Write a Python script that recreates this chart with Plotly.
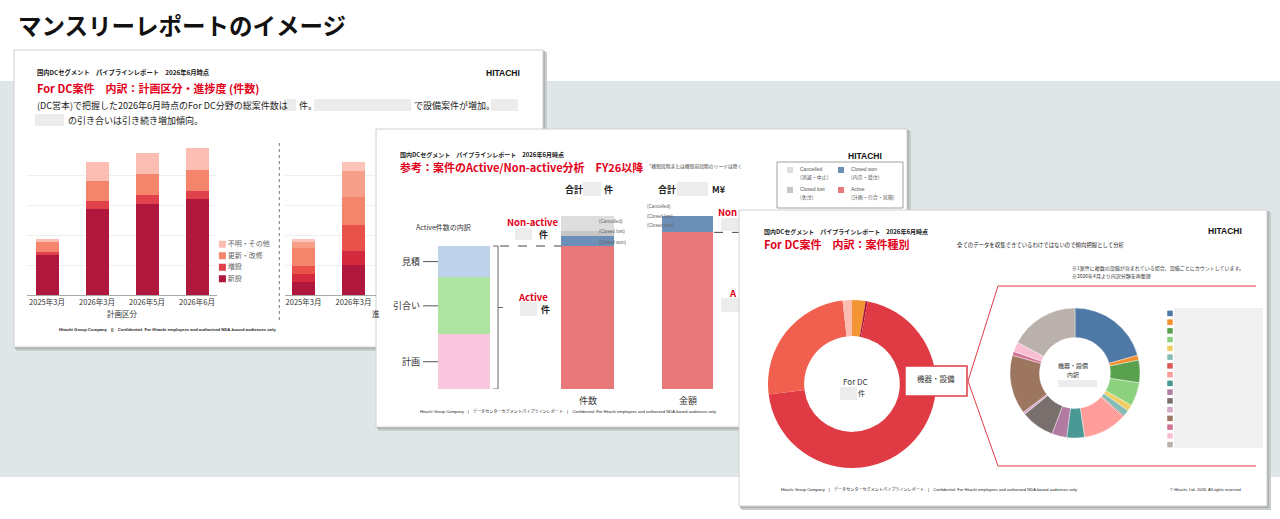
import plotly.graph_objects as go

W, H = 1280, 519
JP = "Noto Sans CJK JP, Noto Sans, sans-serif"
LAT = "Liberation Sans, Arial, sans-serif"
MIX = "Liberation Sans, Noto Sans CJK JP, sans-serif"
RED = "#e2001a"


def fx(x):
    return x / W


def fy(y):
    return 1 - y / H


# ---------------- data ----------------
# Slide 1 (left): 計画区分 (件数)
plan_periods = ["2025年3月", "2026年3月", "2026年5月", "2026年6月"]
plan_names = ["新設", "増設", "更新・改修", "不明・その他"]
plan_new = [67, 144, 152, 160]
plan_add = [5, 12, 15, 14]
plan_renew = [17, 34, 35, 35]
plan_other = [5, 32, 34, 36]
plan_colors = ["#b0173c", "#e0414b", "#f5846c", "#fcbdb3"]

# Slide 1 (right, partly hidden): 進捗度
prog_periods = ["2025年3月", "2026年3月"]
prog_names = ["受注", "内示", "見積", "引合い", "計画", "その他"]
prog_s1 = [22, 50]
prog_s2 = [13, 24]
prog_s3 = [14, 43]
prog_s4 = [30, 47]
prog_s5 = [9, 42]
prog_s6 = [5, 16]
prog_colors = ["#b0173c", "#d42a3e", "#e8524b", "#f5846c", "#f89f8a", "#fcc3b8"]

# Slide 2: Active / Non-active
status_names = ["Active", "Closed won", "Closed lost", "Cancelled"]
status_count = [165, 12, 5, 18]
status_amount = [940, 100, 0, 0]
status_colors = ["#e8787a", "#6c8fb8", "#c6c6c6", "#dddddd"]
active_names = ["計画", "引合い", "見積"]
active_count = [63, 66, 36]
active_colors = ["#f8c6dd", "#aee3a2", "#bed2ec"]

# Slide 3: 案件種別
dc_types = ["サービス", "保守", "機器・設備", "工事", "その他"]
dc_counts = [13, 2, 350, 126, 9]
dc_colors = ["#f39532", "#a8173a", "#e03b45", "#f1604f", "#fbbdb2"]
equip_types = ["区分%d" % i for i in range(1, 17)]
equip_counts = [206, 12, 56, 59, 15, 17, 3, 108, 44, 37, 83, 6, 147, 10, 24, 172]
equip_colors = ["#4e79a7", "#f28e2b", "#59a14f", "#8cd17d", "#f1ce63", "#86bcb6",
                "#e15759", "#ff9d9a", "#499894", "#b07aa1", "#79706e", "#d4a6c8",
                "#9d7660", "#d37295", "#fabfd2", "#bab0ac"]

shapes = []
annotations = []


def rect(x0, y0, x1, y1, fill, line=None, lw=0, layer="below"):
    shapes.append(dict(type="rect", xref="paper", yref="paper",
                       x0=fx(x0), x1=fx(x1), y0=fy(y1), y1=fy(y0),
                       fillcolor=fill, line=dict(color=line or fill, width=lw),
                       layer=layer))


def seg(x0, y0, x1, y1, color, width=1, dash=None, layer="below", yref="paper"):
    if yref == "paper":
        y0, y1 = fy(y0), fy(y1)
    shapes.append(dict(type="line", xref="paper", yref=yref,
                       x0=fx(x0), x1=fx(x1), y0=y0, y1=y1,
                       line=dict(color=color, width=width, dash=dash), layer=layer))


def text(s, x, y, size, color="#222", bold=False, xanchor="left", family=JP, yref="paper"):
    annotations.append(dict(text=("<b>%s</b>" % s) if bold else s,
                            x=fx(x), y=fy(y) if yref == "paper" else y,
                            xref="paper", yref=yref, showarrow=False,
                            xanchor=xanchor, yanchor="middle",
                            font=dict(size=size, color=color, family=family)))


def hatch(x0, y0, x1, y1):
    rect(x0, y0, x1, y1, "#ececec")


def slide(x0, y0, x1, y1):
    rect(x0 + 2, y0 + 2, x1 + 4, y1 + 4, "#c9cccd")
    rect(x0 + 1, y0 + 1, x1 + 2, y1 + 2, "#aeb1b2")
    rect(x0, y0, x1, y1, "#ffffff", "#d0d0d0", 1)


# ---------------- page ----------------
rect(0, 81, 1280, 477, "#dfe6e7")
text("マンスリーレポートのイメージ", 16, 25, 23.5, "#111", bold=True)

# ---------------- slide 1 ----------------
slide(14, 50, 543, 347)
text("国内DCセグメント　パイプラインレポート　2026年6月時点", 35, 73, 6.3, "#222", bold=True)
text("For DC案件　内訳：計画区分・進捗度 (件数)", 35, 88, 11, RED, bold=True)
text("HITACHI", 522, 73, 8.5, "#111", bold=True, xanchor="right", family=LAT)
text("(DC営本)で把握した2026年6月時点のFor DC分野の総案件数は", 35, 105, 9, "#222")
hatch(284, 99, 296, 111)
text("件。", 297, 105, 9, "#222")
hatch(314, 99, 411, 111)
text("で設備案件が増加。", 412, 105, 9, "#222")
hatch(491, 99, 518, 111)
hatch(35, 114, 64, 126)
text("の引き合いは引き続き増加傾向。", 66, 120, 9, "#222")
seg(279.3, 143, 279.3, 320, "#777", 1, "dot")
text("計画区分", 122, 313, 7.5, "#333", xanchor="center")
text("進", 369.5, 313, 7.5, "#333")
text("Hitachi Group Company　||　Confidential: For Hitachi employees and authorized NDA-bound audiences only",
     57, 329, 4.2, "#222", bold=True, family=MIX)

# ---------------- slide 2 ----------------
slide(376, 129, 907, 427)
text("国内DCセグメント　パイプラインレポート　2026年6月時点", 398, 154, 6, "#222", bold=True)
text("参考：案件のActive/Non-active分析　FY26以降", 398, 167, 11, RED, bold=True)
text("*構想段階または構想前段階のリードは除く", 647, 166, 4.8, "#444")
text("HITACHI", 884, 156, 8.5, "#111", bold=True, xanchor="right", family=LAT)
text("合計", 563, 189, 9, "#222", bold=True)
hatch(583, 182, 601, 196)
text("件", 602, 189, 9, "#222", bold=True)
text("合計", 656, 189, 9, "#222", bold=True)
hatch(677, 182, 708, 196)
text("M¥", 710, 189, 9, "#222", bold=True)
# legend box
rect(777, 162, 903, 208, "#ffffff", "#888888", 0.8)
leg2 = [(3, 787, 170, "Cancelled", "(消滅・中止)"),
        (1, 838, 170, "Closed won", "(内示・受注)"),
        (2, 787, 190, "Closed lost", "(失注)"),
        (0, 838, 190, "Active", "(計画・引合・見積)")]
for idx, lx, ly, l1, l2 in leg2:
    rect(lx, ly - 3, lx + 6, ly + 3, status_colors[idx])
    text(l1, lx + 11, ly - 1, 5, "#555", family=MIX)
    text(l2, lx + 11, ly + 6.5, 5, "#555")
text("Active件数の内訳", 443, 227, 7, "#333", xanchor="center")
# breakdown labels
cum = 0
for name, v in zip(active_names, active_count):
    mid = cum + v / 2
    cum += v
    annotations.append(dict(text=name, x=fx(422), y=mid, xref="paper", yref="y3",
                            showarrow=False, xanchor="right", yanchor="middle",
                            font=dict(size=9, color="#333", family=JP)))
    seg(423, mid, 438, mid, "#555", 1, yref="y3")
active_total = sum(active_count)
# brace
seg(498, 0, 498, active_total, "#666", 1, yref="y3")
seg(493, 0, 498, 0, "#666", 1, yref="y3")
seg(493, active_total, 498, active_total, "#666", 1, yref="y3")
seg(498, active_total * 0.57, 503, active_total * 0.57, "#666", 1, yref="y3")
seg(500, active_total, 561, active_total, "#444", 1, "dash", yref="y3")
seg(714, status_amount[0], 739, status_amount[0], "#444", 1, "dash", yref="y4")
text("Non-active", 532, 222, 9.5, RED, bold=True, xanchor="center")
hatch(515, 228, 532, 240)
text("件", 537, 234, 9, "#222", bold=True)
text("Active", 533, 297, 9.5, RED, bold=True, xanchor="center")
hatch(520, 302, 537, 316)
text("件", 539, 309, 9, "#222", bold=True)
text("Non", 739, 212, 9.5, RED, bold=True, xanchor="right")
hatch(721, 218, 739, 231)
text("A", 739, 293, 9.5, RED, bold=True, xanchor="right")
hatch(721, 298, 739, 312)
for lbl, yy in zip(["(Cancelled)", "(Closed lost)", "(Closed won)"], [221, 231.5, 242]):
    text(lbl, 597, yy, 4.6, "#666", family=LAT)
for lbl, yy in zip(["(Cancelled)", "(Closed lost)", "(Closed won)"], [206, 216, 226]):
    text(lbl, 645, yy, 4.6, "#666", family=LAT)
text("件数", 587.5, 400, 9, "#333", xanchor="center")
text("金額", 687.5, 400, 9, "#333", xanchor="center")
text("Hitachi Group Company　|　データセンターセグメントパイプラインレポート　|　Confidential: For Hitachi employees and authorized NDA-bound audiences only",
     418, 411, 4.1, "#222", family=MIX)

# ---------------- slide 3 ----------------
slide(739, 210, 1267, 506)
text("国内DCセグメント　パイプラインレポート　2026年6月時点", 762, 231, 6, "#222", bold=True)
text("For DC案件　内訳：案件種別", 762, 244, 11, RED, bold=True)
text("全てのデータを収集できているわけではないので傾向把握として分析", 955, 245, 5.4, "#222")
text("HITACHI", 1244, 231, 8.5, "#111", bold=True, xanchor="right", family=LAT)
text("※1案件に複数の設備が含まれている場合、設備ごとにカウントしています。", 1070, 268, 5, "#333")
text("※2026年4月より内訳分類を再整理", 1070, 276, 5, "#333")
# zoom chevron
seg(968, 381, 998, 286, "#e03b45", 1)
seg(968, 381, 998, 466, "#e03b45", 1)
seg(998, 286, 1256, 286, "#e03b45", 1)
seg(998, 466, 1256, 466, "#e03b45", 1)
rect(905, 366, 967, 396, "#ffffff", "#e03b45", 1.5, layer="above")
annotations.append(dict(text="機器・設備", x=fx(936), y=fy(378), xref="paper", yref="paper",
                        showarrow=False, xanchor="center", yanchor="middle",
                        font=dict(size=7.5, color="#333", family=JP)))
text("For DC", 855, 381, 8, "#333", xanchor="center")
hatch(840, 387, 857, 400)
text("件", 861, 393, 7, "#333", xanchor="center")
text("機器・設備", 1073, 365, 6, "#333", xanchor="center")
text("内訳", 1073, 374, 6, "#333", xanchor="center")
hatch(1058, 380, 1097, 387)
rect(1174, 308, 1263, 448, "#f0f0f0")
text("Hitachi Group Company　|　データセンターセグメントパイプラインレポート　|　Confidential: For Hitachi employees and authorized NDA-bound audiences only",
     779, 489, 4.1, "#222", family=MIX)
text("© Hitachi, Ltd. 2026. All rights reserved", 1244, 489, 4.1, "#222", xanchor="right", family=LAT)

# ---------------- traces ----------------
fig = go.Figure()

for name, vals, col in zip(plan_names, [plan_new, plan_add, plan_renew, plan_other], plan_colors):
    fig.add_trace(go.Bar(x=plan_periods, y=vals, name=name, marker=dict(color=col, line=dict(width=0)),
                         width=0.46, xaxis="x", yaxis="y"))

for name, vals, col in zip(prog_names, [prog_s1, prog_s2, prog_s3, prog_s4, prog_s5, prog_s6], prog_colors):
    fig.add_trace(go.Bar(x=prog_periods, y=vals, name=name, marker=dict(color=col, line=dict(width=0)),
                         width=0.46, xaxis="x2", yaxis="y2"))

# slide 1 legend
fig.add_trace(go.Scatter(x=[0.1] * len(plan_names), y=list(range(len(plan_names))),
                         mode="markers+text", text=plan_names, textposition="middle right",
                         textfont=dict(size=7, color="#666", family=JP),
                         marker=dict(symbol="square", size=7, color=plan_colors),
                         xaxis="x6", yaxis="y6", hoverinfo="skip"))

for name, v, col in zip(active_names, active_count, active_colors):
    fig.add_trace(go.Bar(x=["Active内訳"], y=[v], name=name, marker=dict(color=col, line=dict(width=0)),
                         width=0.42, xaxis="x3", yaxis="y3"))
for name, v, col in zip(status_names, status_count, status_colors):
    fig.add_trace(go.Bar(x=["件数"], y=[v], name=name, marker=dict(color=col, line=dict(width=0)),
                         width=0.43, xaxis="x3", yaxis="y3"))
for name, v, col in zip(status_names, status_amount, status_colors):
    fig.add_trace(go.Bar(x=["金額"], y=[v], name=name, marker=dict(color=col, line=dict(width=0)),
                         width=0.56, xaxis="x4", yaxis="y4"))

cx1, cy1, r1 = 852, 384, 84
fig.add_trace(go.Pie(labels=dc_types, values=dc_counts, hole=0.57, sort=False,
                     direction="clockwise", rotation=0, textinfo="none",
                     marker=dict(colors=dc_colors, line=dict(width=0)),
                     domain=dict(x=[fx(cx1 - r1), fx(cx1 + r1)], y=[fy(cy1 + r1), fy(cy1 - r1)])))
cx2, cy2, r2 = 1075, 373, 65
fig.add_trace(go.Pie(labels=equip_types, values=equip_counts, hole=0.545, sort=False,
                     direction="clockwise", rotation=0, textinfo="none",
                     marker=dict(colors=equip_colors, line=dict(width=0.4, color="#ffffff")),
                     domain=dict(x=[fx(cx2 - r2), fx(cx2 + r2)], y=[fy(cy2 + r2), fy(cy2 - r2)])))

# slide 3 legend swatches
fig.add_trace(go.Scatter(x=[0.5] * len(equip_types), y=list(range(len(equip_types))),
                         mode="markers", marker=dict(symbol="square", size=5.5, color=equip_colors),
                         xaxis="x5", yaxis="y5", hovertext=equip_types, hoverinfo="text"))

hidden = dict(visible=False, fixedrange=True)
fig.update_layout(
    width=W, height=H, autosize=False,
    margin=dict(l=0, r=0, t=0, b=0),
    paper_bgcolor="#ffffff", plot_bgcolor="rgba(0,0,0,0)",
    barmode="stack", showlegend=False,
    font=dict(family=JP),
    shapes=shapes, annotations=annotations,
    xaxis=dict(domain=[fx(27), fx(217)], range=[-0.4, 3.4], anchor="y",
               showline=True, linecolor="#a8a8a8", linewidth=1, ticks="", showgrid=False,
               tickfont=dict(size=7.5, color="#333", family=JP), fixedrange=True),
    yaxis=dict(domain=[fy(295), fy(145)], range=[0, 250], dtick=50, anchor="x",
               showgrid=True, gridcolor="#efefef", gridwidth=1, zeroline=False,
               showticklabels=False, fixedrange=True),
    xaxis2=dict(domain=[fx(285), fx(376)], range=[-0.37, 1.45], anchor="y2",
                showline=True, linecolor="#a8a8a8", linewidth=1, ticks="", showgrid=False,
                tickfont=dict(size=7.5, color="#333", family=JP), fixedrange=True),
    yaxis2=dict(domain=[fy(295), fy(145)], range=[0, 250], dtick=50, anchor="x2",
                showgrid=True, gridcolor="#efefef", gridwidth=1, zeroline=False,
                showticklabels=False, fixedrange=True),
    xaxis3=dict(domain=[fx(402.25), fx(649.25)], range=[-0.5, 1.5], anchor="y3",
                type="category", categoryorder="array", categoryarray=["Active内訳", "件数"], **hidden),
    yaxis3=dict(domain=[fy(389), fy(215.7)], range=[0, sum(status_count)], anchor="x3", **hidden),
    xaxis4=dict(domain=[fx(642), fx(733)], range=[-0.5, 0.5], anchor="y4", type="category", **hidden),
    yaxis4=dict(domain=[fy(389), fy(215.7)], range=[0, sum(status_amount)], anchor="x4", **hidden),
    xaxis5=dict(domain=[fx(1160), fx(1180)], range=[0, 1], anchor="y5", **hidden),
    yaxis5=dict(domain=[fy(449), fy(309)], range=[len(equip_types) - 0.5, -0.5], anchor="x5", **hidden),
    xaxis6=dict(domain=[fx(216), fx(280)], range=[0, 1], anchor="y6", **hidden),
    yaxis6=dict(domain=[fy(284.5), fy(238.5)], range=[-0.5, len(plan_names) - 0.5], anchor="x6", **hidden),
)

fig.write_html("out.html", config={"displayModeBar": False},
               post_script="document.body.style.margin='0px';document.body.style.overflow='hidden';")
